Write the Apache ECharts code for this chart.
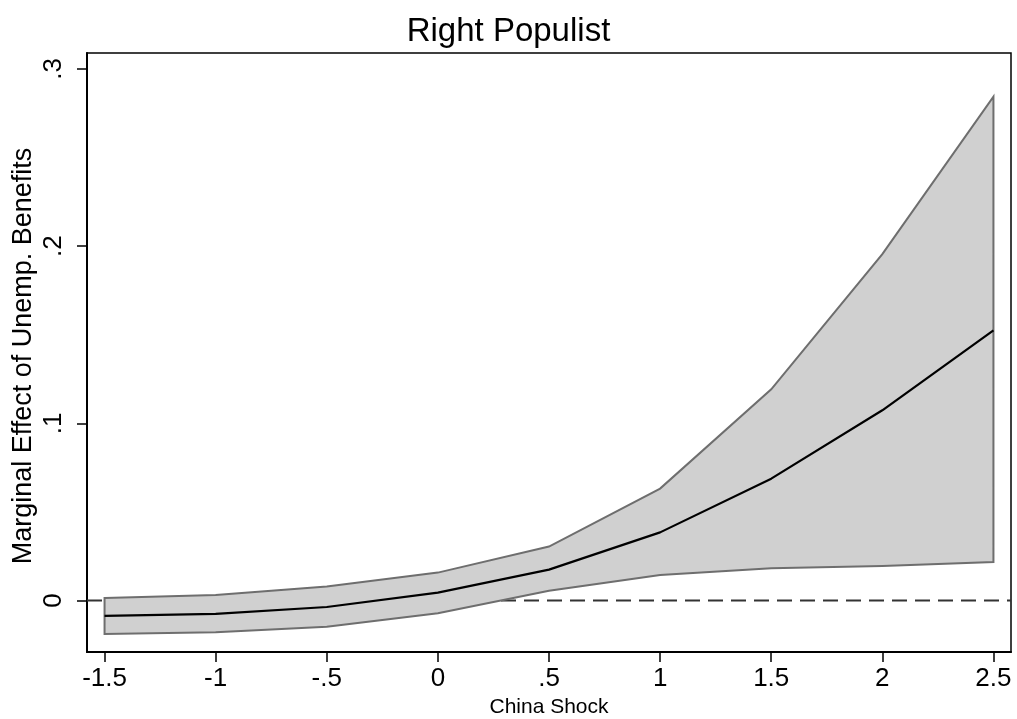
<!DOCTYPE html>
<html>
<head>
<meta charset="utf-8">
<script src="https://cdn.jsdelivr.net/npm/echarts@6/dist/echarts.min.js"></script>
<style>
html,body{margin:0;padding:0;background:#fff;}
#chart{width:1017px;height:719px;}
</style>
</head>
<body>
<div id="chart"></div>
<script>
// Data
const chinaShock = [-1.5, -1, -0.5, 0, 0.5, 1, 1.5, 2, 2.5];
const upperCI    = [0.0015, 0.0032, 0.0079, 0.0158, 0.0305, 0.0632, 0.1192, 0.1955, 0.2843];
const marginal   = [-0.0086, -0.0075, -0.0036, 0.0045, 0.0175, 0.0385, 0.0688, 0.1074, 0.1525];
const lowerCI    = [-0.0188, -0.0178, -0.0148, -0.0071, 0.0055, 0.0145, 0.0182, 0.0195, 0.0218];
const xTicks = [-1.5, -1, -0.5, 0, 0.5, 1, 1.5, 2, 2.5];
const xTickLabels = ['-1.5', '-1', '-.5', '0', '.5', '1', '1.5', '2', '2.5'];
const yTicks = [0, 0.1, 0.2, 0.3];
const yTickLabels = ['0', '.1', '.2', '.3'];
const yTitle = 'Marginal Effect of Unemp. Benefits';

const X_MIN = -1.579, X_MAX = 2.579;
const Y_MIN = -0.029, Y_MAX = 0.309;
const FONT = 'Liberation Sans, Arial, sans-serif';

function labelFor(ticks, labels) {
  return function (v) {
    for (let i = 0; i < ticks.length; i++) if (Math.abs(ticks[i] - v) < 1e-9) return labels[i];
    return '';
  };
}

const chart = echarts.init(document.getElementById('chart'), null, {renderer: 'canvas'});
chart.setOption({
  animation: false,
  backgroundColor: '#fff',
  title: {
    text: 'Right Populist',
    left: 'center',
    top: 10,
    textStyle: {fontFamily: FONT, fontSize: 33, fontWeight: 'normal', color: '#000'}
  },
  graphic: [{
    type: 'text', x: 24, y: 356, rotation: Math.PI / 2, silent: true,
    style: {text: yTitle, fontFamily: FONT, fontSize: 27, fill: '#000',
      align: 'center', verticalAlign: 'middle'}
  }],
  grid: {
    left: 87, right: 6, top: 53, bottom: 67,
    outerBoundsMode: 'none', containLabel: false,
    show: true, borderColor: '#000', borderWidth: 1.5, backgroundColor: '#fff'
  },
  xAxis: {
    type: 'value', min: X_MIN, max: X_MAX,
    name: 'China Shock', nameLocation: 'middle', nameGap: 44,
    nameTextStyle: {fontFamily: FONT, fontSize: 21, color: '#000'},
    axisLine: {show: true, onZero: false, lineStyle: {color: '#000', width: 2}},
    axisTick: {show: true, length: 10, customValues: xTicks, lineStyle: {color: '#000', width: 1.5}},
    axisLabel: {customValues: xTicks, formatter: labelFor(xTicks, xTickLabels),
      fontFamily: FONT, fontSize: 26, color: '#000', margin: 14},
    splitLine: {show: false}
  },
  yAxis: {
    type: 'value', min: Y_MIN, max: Y_MAX,
    axisLine: {show: true, onZero: false, lineStyle: {color: '#000', width: 2}},
    axisTick: {show: true, length: 10, customValues: yTicks, lineStyle: {color: '#000', width: 1.5}},
    axisLabel: {customValues: yTicks, formatter: labelFor(yTicks, yTickLabels), rotate: 90,
      fontFamily: FONT, fontSize: 26, color: '#000', margin: 20},
    splitLine: {show: false}
  },
  series: [
    {
      type: 'line', z: 1, silent: true, symbol: 'none',
      data: [[X_MIN, 0], [X_MAX, 0]],
      lineStyle: {color: '#333', width: 2, type: [15, 8]}
    },
    {
      type: 'custom', z: 2, silent: true, clip: true,
      data: [[chinaShock[0], 0]],
      encode: {x: 0, y: 1},
      renderItem: function (params, api) {
        const pts = [];
        for (let i = 0; i < chinaShock.length; i++) pts.push(api.coord([chinaShock[i], upperCI[i]]));
        for (let i = chinaShock.length - 1; i >= 0; i--) pts.push(api.coord([chinaShock[i], lowerCI[i]]));
        return {
          type: 'polygon',
          shape: {points: pts},
          style: {fill: '#d0d0d0', stroke: '#6e6e6e', lineWidth: 2, lineJoin: 'miter'}
        };
      }
    },
    {
      type: 'line', z: 3, silent: true, symbol: 'none',
      data: chinaShock.map((x, i) => [x, marginal[i]]),
      lineStyle: {color: '#000', width: 2.2}
    }
  ]
});
</script>
</body>
</html>
